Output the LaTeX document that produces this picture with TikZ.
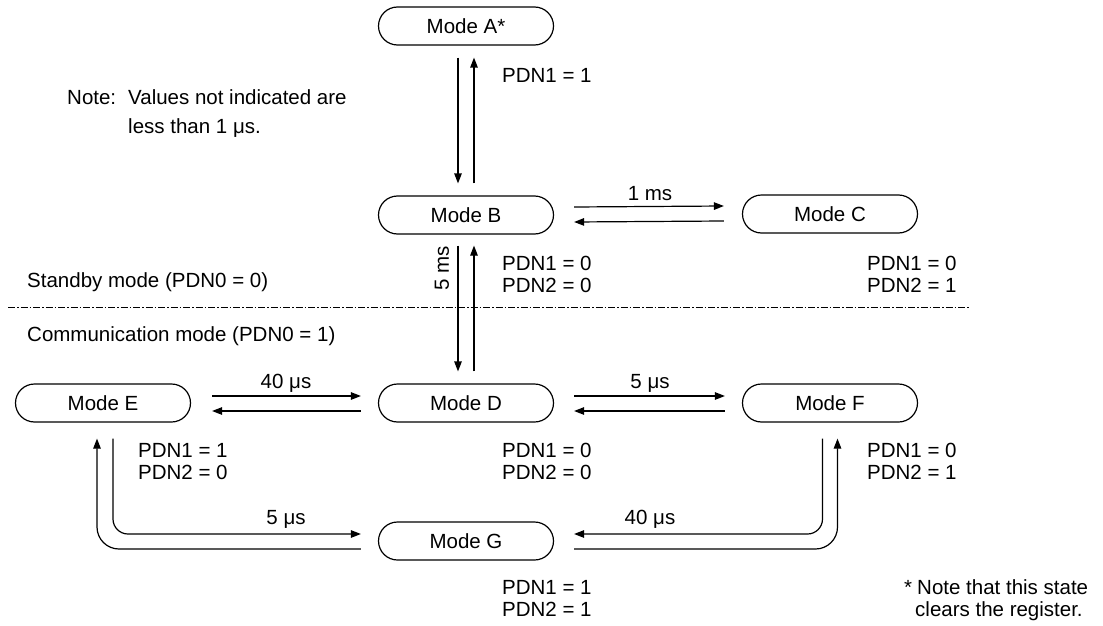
\documentclass[tikz,border=0pt]{standalone}
\usepackage{fontspec}
\setmainfont{Liberation Sans}
\usetikzlibrary{arrows.meta}
\begin{document}
\begin{tikzpicture}[x=1pt,y=-1pt,
  every node/.style={font=\fontsize{20.5pt}{22pt}\selectfont, inner sep=0pt},
  mode/.style={draw, line width=1.2pt, rounded corners=19pt, minimum width=175pt, minimum height=38pt},
  arr/.style={line width=1.2pt, -{Triangle[length=10pt,width=7.5pt]}},
  lw/.style={anchor=base west},
  lc/.style={anchor=base},
]
\useasboundingbox (0,0) rectangle (1103,626);
% modes
\node[mode] (A) at (466,26) {Mode A*};
\node[mode] (B) at (466,215) {Mode B};
\node[mode] (C) at (830,214) {Mode C};
\node[mode] (E) at (103,403) {Mode E};
\node[mode] (D) at (466,403) {Mode D};
\node[mode] (F) at (830,403) {Mode F};
\node[mode] (G) at (466,541) {Mode G};
% A <-> B
\draw[arr] ([xshift=-8pt,yshift=-12pt]A.south) -- ([xshift=-8pt,yshift=12pt]B.north);
\draw[arr] ([xshift=8pt,yshift=12pt]B.north) -- ([xshift=8pt,yshift=-12pt]A.south);
% B <-> C
\draw[arr] ([xshift=20pt,yshift=8pt]B.east) -- ([xshift=-18pt,yshift=8pt]C.west);
\draw[arr] ([xshift=-18pt,yshift=-7pt]C.west) -- ([xshift=20pt,yshift=-7pt]B.east);
% B <-> D
\draw[arr] ([xshift=-8pt,yshift=-11pt]B.south) -- ([xshift=-8pt,yshift=12pt]D.north);
\draw[arr] ([xshift=8pt,yshift=12pt]D.north) -- ([xshift=8pt,yshift=-11pt]B.south);
% E <-> D
\draw[arr] ([xshift=21pt,yshift=7pt]E.east) -- ([xshift=-17pt,yshift=7pt]D.west);
\draw[arr] ([xshift=-17pt,yshift=-8pt]D.west) -- ([xshift=21pt,yshift=-8pt]E.east);
% D <-> F
\draw[arr] ([xshift=20pt,yshift=7pt]D.east) -- ([xshift=-17pt,yshift=7pt]F.west);
\draw[arr] ([xshift=-17pt,yshift=-8pt]F.west) -- ([xshift=20pt,yshift=-8pt]D.east);
% E <-> G loops
\draw[arr, rounded corners=15pt] ([xshift=10pt,yshift=-16pt]E.south) |- ([xshift=-17pt,yshift=7pt]G.west);
\draw[arr, rounded corners=22pt] ([xshift=-17pt,yshift=-8pt]G.west) -| ([xshift=-6pt,yshift=-16pt]E.south);
% F <-> G loops
\draw[arr, rounded corners=15pt] ([xshift=-7.5pt,yshift=-16pt]F.south) |- ([xshift=20pt,yshift=7pt]G.east);
\draw[arr, rounded corners=22pt] ([xshift=20pt,yshift=-8pt]G.east) -| ([xshift=7.5pt,yshift=-16pt]F.south);
% separator
\coordinate (sepL) at (8,307);
\coordinate (sepR) at (970,307);
\draw[line width=1pt, dash pattern=on 7pt off 2pt on 1.5pt off 2pt] (sepL) -- (sepR);
% labels
\node[lw] (tAB) at (502,82) {PDN1 = 1};
\node[lw] (note1) at (67,104) {Note:};
\node[lw] (note2) at (128,104) {Values not indicated are};
\node[lw] (note3) at (128,133) {less than 1 μs.};
\node[lc] (tBC) at (650,200) {1 ms};
\node[lw] (tB1) at (502,270) {PDN1 = 0};
\node[lw] (tB2) at (502,292) {PDN2 = 0};
\node[lw] (tC1) at (867,270) {PDN1 = 0};
\node[lw] (tC2) at (867,292) {PDN2 = 1};
\node[rotate=90] (tBD) at (442,268) {5 ms};
\node[lw] (stby) at (27,287) {Standby mode (PDN0 = 0)};
\node[lw] (comm) at (27,341) {Communication mode (PDN0 = 1)};
\node[lc] (tED) at (286,388) {40 μs};
\node[lc] (tDF) at (650,388) {5 μs};
\node[lw] (tE1) at (138,457) {PDN1 = 1};
\node[lw] (tE2) at (138,479) {PDN2 = 0};
\node[lw] (tD1) at (502,457) {PDN1 = 0};
\node[lw] (tD2) at (502,479) {PDN2 = 0};
\node[lw] (tF1) at (867,457) {PDN1 = 0};
\node[lw] (tF2) at (867,479) {PDN2 = 1};
\node[lc] (tEG) at (286,524) {5 μs};
\node[lc] (tFG) at (650,524) {40 μs};
\node[lw] (tG1) at (502,594) {PDN1 = 1};
\node[lw] (tG2) at (502,616) {PDN2 = 1};
\node[lw] (ast) at (904,594) {*};
\node[lw] (fn1) at (917,594) {Note that this state};
\node[lw] (fn2) at (915,616) {clears the register.};
\end{tikzpicture}
\end{document}
